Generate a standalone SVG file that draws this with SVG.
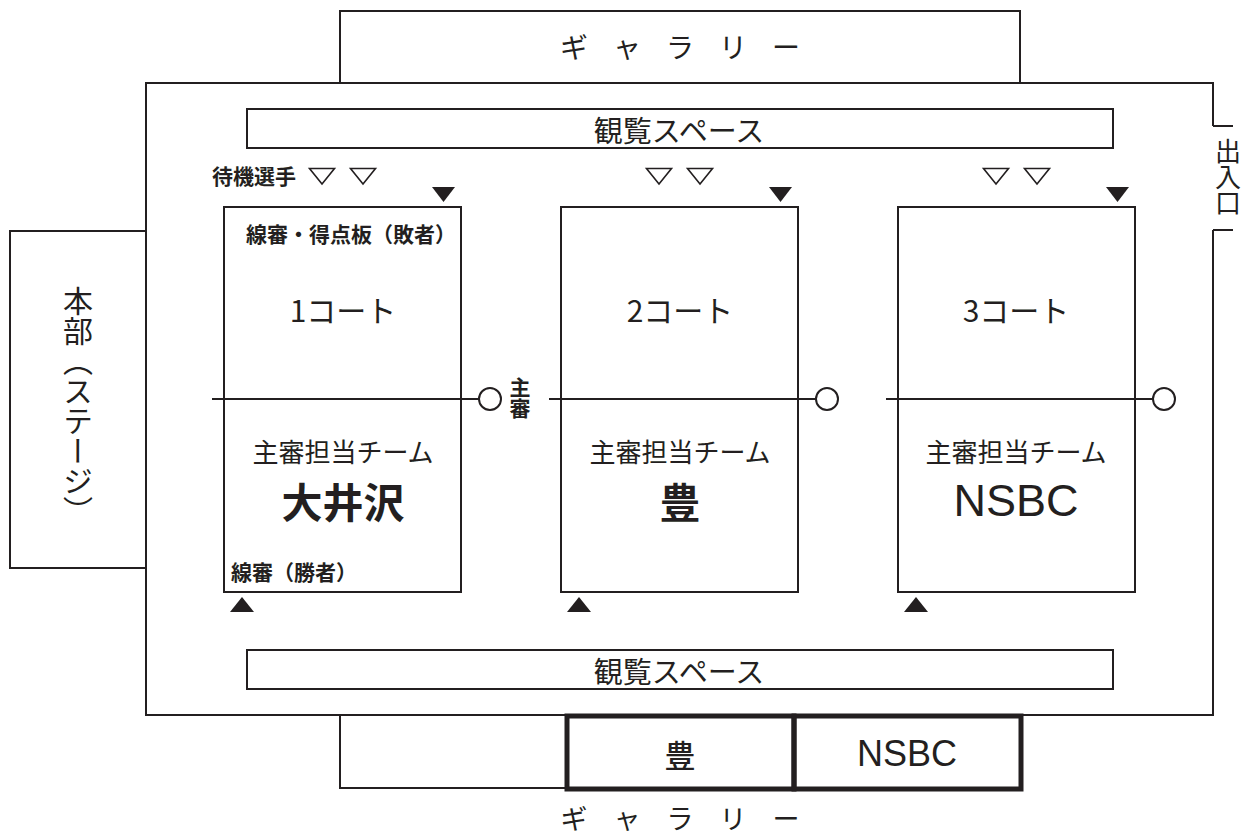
<svg xmlns="http://www.w3.org/2000/svg" width="1249" height="835" viewBox="0 0 1249 835">
<style>
  .ln{fill:none;stroke:#231f20;stroke-width:2}
  .thick{fill:none;stroke:#231f20;stroke-width:5}
  .court{fill:#fff;stroke:#231f20;stroke-width:2}
  .net{fill:none;stroke:#231f20;stroke-width:2}
  .ref{fill:#fff;stroke:#231f20;stroke-width:2}
  .open{fill:#fff;stroke:#231f20;stroke-width:1.6}
  .solid{fill:#231f20;stroke:none}
  text{font-family:"Noto Sans CJK JP","Noto Sans",sans-serif;fill:#231f20}
  .c{text-anchor:middle;dominant-baseline:central}
  .s{dominant-baseline:central}
  .lat{font-family:"Liberation Sans",Arial,sans-serif;text-anchor:middle}
  .v{writing-mode:vertical-rl;text-anchor:start}
  .sm{font-size:21px;font-weight:bold}
</style>

<g id="hall">
  <path class="ln" d="M1213,126 V83 H146 V715 H1213 V230"/>
  <path class="ln" d="M1213,126 H1233 M1213,230 H1233"/>
</g>

<g id="gallery-top">
  <path class="ln" d="M340,83 V11 H1020 V83"/>
  <text class="c" font-size="28" x="574 627 680 733 786" y="46">ギャラリー</text>
</g>

<g id="entrance">
  <text class="v" font-size="26" x="1228" y="138">出入口</text>
</g>

<g id="honbu">
  <path class="ln" d="M146,231 H10 V568 H146"/>
  <text class="v" font-size="30" x="78" y="286">本部（ステージ）</text>
</g>

<g id="view-top">
  <rect class="ln" x="247" y="109" width="866" height="39"/>
  <text class="c" font-size="29" x="679" y="129">観覧スペース</text>
</g>

<g id="view-bottom">
  <rect class="ln" x="247" y="650" width="866" height="39"/>
  <text class="c" font-size="29" x="679" y="670">観覧スペース</text>
</g>

<g id="gallery-bottom">
  <path class="ln" d="M340,715 V788 H567"/>
  <text class="c" font-size="27" x="574 627 680 733 786" y="817">ギャラリー</text>
</g>

<g id="seat-yutaka">
  <rect class="thick" x="567" y="716" width="227" height="73"/>
  <text class="c" font-size="31" font-weight="500" x="680" y="753">豊</text>
</g>

<g id="seat-nsbc">
  <rect class="thick" x="794" y="716" width="227" height="73"/>
  <text class="lat" font-size="36" x="907" y="766">NSBC</text>
</g>

<g id="connectors">
  <path class="net" d="M212,399 H479 M549,399 H816 M886,399 H1153"/>
</g>

<g id="court1">
  <rect class="court" x="224" y="207" width="237" height="385"/>
  <path class="net" d="M224,399 H461"/>
  <text class="s sm" x="212" y="175">待機選手</text>
  <polygon class="open" points="309.5,168.5 334.5,168.5 322,184"/>
  <polygon class="open" points="350.5,168.5 375.5,168.5 363,184"/>
  <polygon class="solid" points="432,187 455,187 443.5,202"/>
  <polygon class="solid" points="230,612 254,612 242,597"/>
  <text class="s sm" font-size="21.5" x="246" y="233">線審・得点板（敗者）</text>
  <text class="c" font-size="30" x="343" y="309">1コート</text>
  <text class="c" font-size="26" x="343" y="450">主審担当チーム</text>
  <text class="c" font-size="41" font-weight="bold" x="343" y="500">大井沢</text>
  <text class="s sm" x="231" y="571">線審（勝者）</text>
</g>

<g id="referee1">
  <circle class="ref" cx="490" cy="399" r="11"/>
  <text class="v sm" x="520" y="377">主審</text>
</g>

<g id="court2">
  <rect class="court" x="561" y="207" width="237" height="385"/>
  <path class="net" d="M561,399 H798"/>
  <polygon class="open" points="646.5,168.5 671.5,168.5 659,184"/>
  <polygon class="open" points="687.5,168.5 712.5,168.5 700,184"/>
  <polygon class="solid" points="769,187 792,187 780.5,202"/>
  <polygon class="solid" points="567,612 591,612 579,597"/>
  <text class="c" font-size="30" x="680" y="309">2コート</text>
  <text class="c" font-size="26" x="680" y="450">主審担当チーム</text>
  <text class="c" font-size="41" font-weight="bold" x="680" y="500">豊</text>
</g>

<g id="referee2">
  <circle class="ref" cx="827" cy="399" r="11"/>
</g>

<g id="court3">
  <rect class="court" x="898" y="207" width="237" height="385"/>
  <path class="net" d="M898,399 H1135"/>
  <polygon class="open" points="983.5,168.5 1008.5,168.5 996,184"/>
  <polygon class="open" points="1024.5,168.5 1049.5,168.5 1037,184"/>
  <polygon class="solid" points="1106,187 1129,187 1117.5,202"/>
  <polygon class="solid" points="904,612 928,612 916,597"/>
  <text class="c" font-size="30" x="1016" y="309">3コート</text>
  <text class="c" font-size="26" x="1016" y="450">主審担当チーム</text>
  <text class="lat" font-size="45" x="1016" y="516">NSBC</text>
</g>

<g id="referee3">
  <circle class="ref" cx="1164" cy="399" r="11"/>
</g>
</svg>
